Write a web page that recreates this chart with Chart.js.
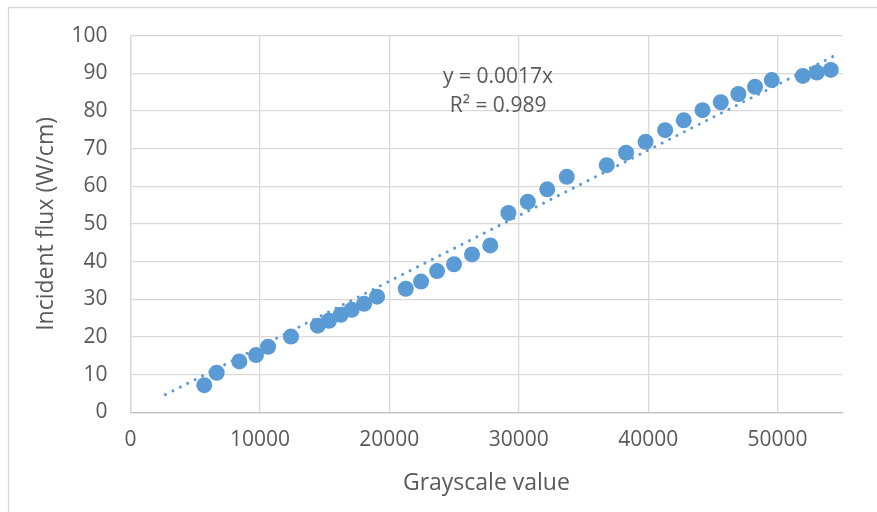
<!DOCTYPE html>
<html>
<head>
<meta charset="utf-8">
<script src="https://cdn.jsdelivr.net/npm/chart.js@4/dist/chart.umd.min.js"></script>
<style>
html,body{margin:0;padding:0;background:#fff;}
#wrap{position:relative;width:877px;height:512px;}
</style>
</head>
<body>
<div id="wrap"><canvas id="c" width="877" height="512"></canvas></div>
<script>
// Data
const grayscale = [5700, 6660, 8410, 9700, 10630, 12400, 14470, 15340, 16240, 17090, 18050, 19050,
  21270, 22450, 23690, 25000, 26390, 27800, 29200, 30700, 32200, 33710, 36800, 38290, 39800,
  41310, 42750, 44200, 45610, 46970, 48260, 49550, 51950, 53030, 54110];
const flux = [7.2, 10.5, 13.5, 15.2, 17.4, 20.1, 23.0, 24.3, 25.9, 27.2, 28.8, 30.7,
  32.8, 34.7, 37.5, 39.3, 41.9, 44.3, 52.9, 55.9, 59.2, 62.5, 65.6, 68.9, 71.8,
  74.9, 77.5, 80.2, 82.3, 84.5, 86.4, 88.2, 89.3, 90.2, 90.9];
const trendSlope = 0.00174;
const trendX = [2700, 54800];
const xTicks = [0, 10000, 20000, 30000, 40000, 50000];
const yTicks = [0, 10, 20, 30, 40, 50, 60, 70, 80, 90, 100];
const equationText = ["y = 0.0017x", "R² = 0.989"];
const xTitle = "Grayscale value";
const yTitle = "Incident flux (W/cm)";

const points = grayscale.map((x, i) => ({x: x, y: flux[i]}));
const trend = trendX.map(x => ({x: x, y: trendSlope * x}));

const FONT = "'Open Sans', 'DejaVu Sans', sans-serif";
const TXT = '#595959';
const BLUE = '#5B9BD5';

const frame = {
  id: 'frame',
  beforeDraw(chart) {
    const ctx = chart.ctx;
    ctx.save();
    ctx.fillStyle = '#fff';
    ctx.fillRect(0, 0, chart.width, chart.height);
    ctx.strokeStyle = '#D9D9D9';
    ctx.lineWidth = 1.3;
    ctx.beginPath();
    ctx.moveTo(8.5, chart.height);
    ctx.lineTo(8.5, 7.5);
    ctx.lineTo(chart.width, 7.5);
    ctx.stroke();
    ctx.restore();
  }
};

const equation = {
  id: 'equation',
  afterDatasetsDraw(chart) {
    const ctx = chart.ctx;
    const xs = chart.scales.x, ys = chart.scales.y;
    const px = xs.getPixelForValue(28400);
    ctx.save();
    ctx.font = "21px " + FONT;
    ctx.fillStyle = TXT;
    ctx.textAlign = 'center';
    ctx.textBaseline = 'middle';
    ctx.fillText(equationText[0], px, ys.getPixelForValue(88.9));
    ctx.fillText(equationText[1], px, ys.getPixelForValue(81.4));
    ctx.restore();
  }
};

new Chart(document.getElementById('c'), {
  type: 'scatter',
  data: {
    datasets: [
      {
        label: 'data',
        data: points,
        backgroundColor: BLUE,
        borderColor: BLUE,
        pointRadius: 8,
        pointHoverRadius: 8,
        borderWidth: 0,
        order: 2
      },
      {
        label: 'trend',
        type: 'line',
        data: trend,
        borderColor: BLUE,
        borderWidth: 3,
        borderDash: [0.01, 8.3],
        borderCapStyle: 'round',
        pointRadius: 0,
        fill: false,
        order: 1
      }
    ]
  },
  plugins: [frame, equation],
  options: {
    responsive: false,
    animation: false,
    devicePixelRatio: 1,
    layout: {padding: {left: 0, top: 33, right: 34.7, bottom: 0}},
    plugins: {legend: {display: false}, tooltip: {enabled: false}},
    scales: {
      x: {
        type: 'linear',
        min: 0, max: 55000,
        afterBuildTicks(s) { s.ticks = xTicks.map(v => ({value: v})); },
        afterFit(s) { s.height = 512 - 412.3; },
        grid: {color: '#D9D9D9', lineWidth: 1.3, drawTicks: false},
        border: {color: '#BFBFBF', width: 1.3},
        ticks: {color: TXT, font: {family: FONT, size: 21}, padding: 15, maxRotation: 0,
          callback: v => String(v)},
        title: {display: true, text: xTitle, color: TXT, font: {family: FONT, size: 23}, padding: {top: 0, bottom: 15}}
      },
      y: {
        type: 'linear',
        min: 0, max: 100,
        afterBuildTicks(s) { s.ticks = yTicks.map(v => ({value: v})); },
        afterFit(s) { s.width = 130.5; },
        grid: {color: '#D9D9D9', lineWidth: 1.3, drawTicks: false},
        border: {color: '#D9D9D9', width: 1.3},
        ticks: {color: TXT, font: {family: FONT, size: 21}, padding: 23, callback: v => String(v)},
        title: {display: true, text: yTitle, color: TXT, font: {family: FONT, size: 23}, padding: {top: 33, bottom: 0}}
      }
    }
  }
});
</script>
</body>
</html>
